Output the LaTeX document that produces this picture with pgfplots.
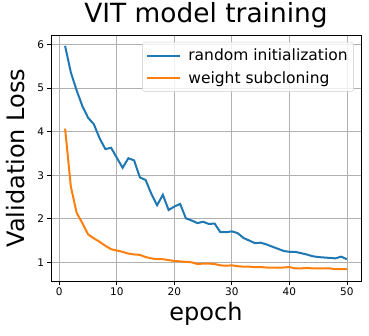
\documentclass[border=0pt]{standalone}
\usepackage{fontspec}
\setmainfont{DejaVu Sans}
\usepackage{pgfplots}
\pgfplotsset{compat=1.18}
\definecolor{mplblue}{HTML}{1F77B4}
\definecolor{mplorange}{HTML}{FF7F0E}

\begin{document}
\begin{tikzpicture}
\useasboundingbox (-51pt,-54pt) rectangle (318pt,281pt);
\begin{axis}[
  at={(0,0)}, anchor=south west,
  scale only axis, width=310pt, height=246pt,
  xmin=-1.45, xmax=52.45, ymin=0.57, ymax=6.22,
  xtick={0,10,...,50}, ytick={1,...,6},
  tick align=outside, tick pos=left,
  major tick length=3.5pt,
  grid=major, grid style={color=black!31, line width=0.8pt},
  axis line style={line width=0.8pt},
  every tick/.style={black, line width=0.8pt},
  tick label style={font=\fontsize{10.5}{12}\selectfont},
  /pgf/number format/assume math mode=true,
  title={VIT model training},
  title style={font=\fontsize{26.4}{30}\selectfont, inner sep=0pt, at={(axis description cs:0.5,1)}, anchor=base, yshift=7pt},
  xlabel={epoch}, ylabel={Validation Loss},
  xlabel style={font=\fontsize{24}{28}\selectfont, inner sep=0pt, at={(axis description cs:0.5,0)}, anchor=north, yshift=-21pt},
  ylabel style={font=\fontsize{24}{28}\selectfont, inner sep=0pt, at={(axis description cs:-0.084,0.5)}, anchor=south},
  legend style={at={(0.977,0.972)}, anchor=north east, font=\fontsize{15.5}{18}\selectfont,
    draw=black!20, rounded corners=3pt, fill=white, fill opacity=0.8, text opacity=1,
    row sep=5pt, inner xsep=4pt, inner ysep=5pt},
  legend cell align=left,
  legend image code/.code={\draw[#1] (0pt,0pt) -- (33pt,0pt); \path (38pt,0pt);},
]
\addplot[mplblue, line width=2pt] coordinates {
(1,5.97)(2,5.36)(3,4.95)(4,4.59)(5,4.32)(6,4.17)(7,3.85)(8,3.60)(9,3.63)(10,3.40)
(11,3.17)(12,3.39)(13,3.34)(14,2.95)(15,2.89)(16,2.57)(17,2.31)(18,2.55)(19,2.20)(20,2.28)
(21,2.34)(22,2.01)(23,1.96)(24,1.90)(25,1.93)(26,1.88)(27,1.89)(28,1.69)(29,1.69)(30,1.71)
(31,1.67)(32,1.56)(33,1.50)(34,1.44)(35,1.45)(36,1.41)(37,1.36)(38,1.31)(39,1.26)(40,1.24)
(41,1.24)(42,1.21)(43,1.18)(44,1.14)(45,1.12)(46,1.11)(47,1.10)(48,1.09)(49,1.13)(50,1.07)
};
\addlegendentry{random initialization}
\addplot[mplorange, line width=2pt] coordinates {
(1,4.07)(2,2.74)(3,2.14)(4,1.90)(5,1.64)(6,1.55)(7,1.47)(8,1.38)(9,1.30)(10,1.27)
(11,1.24)(12,1.20)(13,1.18)(14,1.17)(15,1.12)(16,1.09)(17,1.07)(18,1.07)(19,1.05)(20,1.03)
(21,1.02)(22,1.01)(23,1.00)(24,0.96)(25,0.97)(26,0.97)(27,0.96)(28,0.93)(29,0.92)(30,0.93)
(31,0.91)(32,0.90)(33,0.90)(34,0.89)(35,0.89)(36,0.88)(37,0.88)(38,0.88)(39,0.88)(40,0.89)
(41,0.86)(42,0.86)(43,0.87)(44,0.86)(45,0.86)(46,0.86)(47,0.86)(48,0.84)(49,0.84)(50,0.84)
};
\addlegendentry{weight subcloning}
\end{axis}
\end{tikzpicture}
\end{document}
